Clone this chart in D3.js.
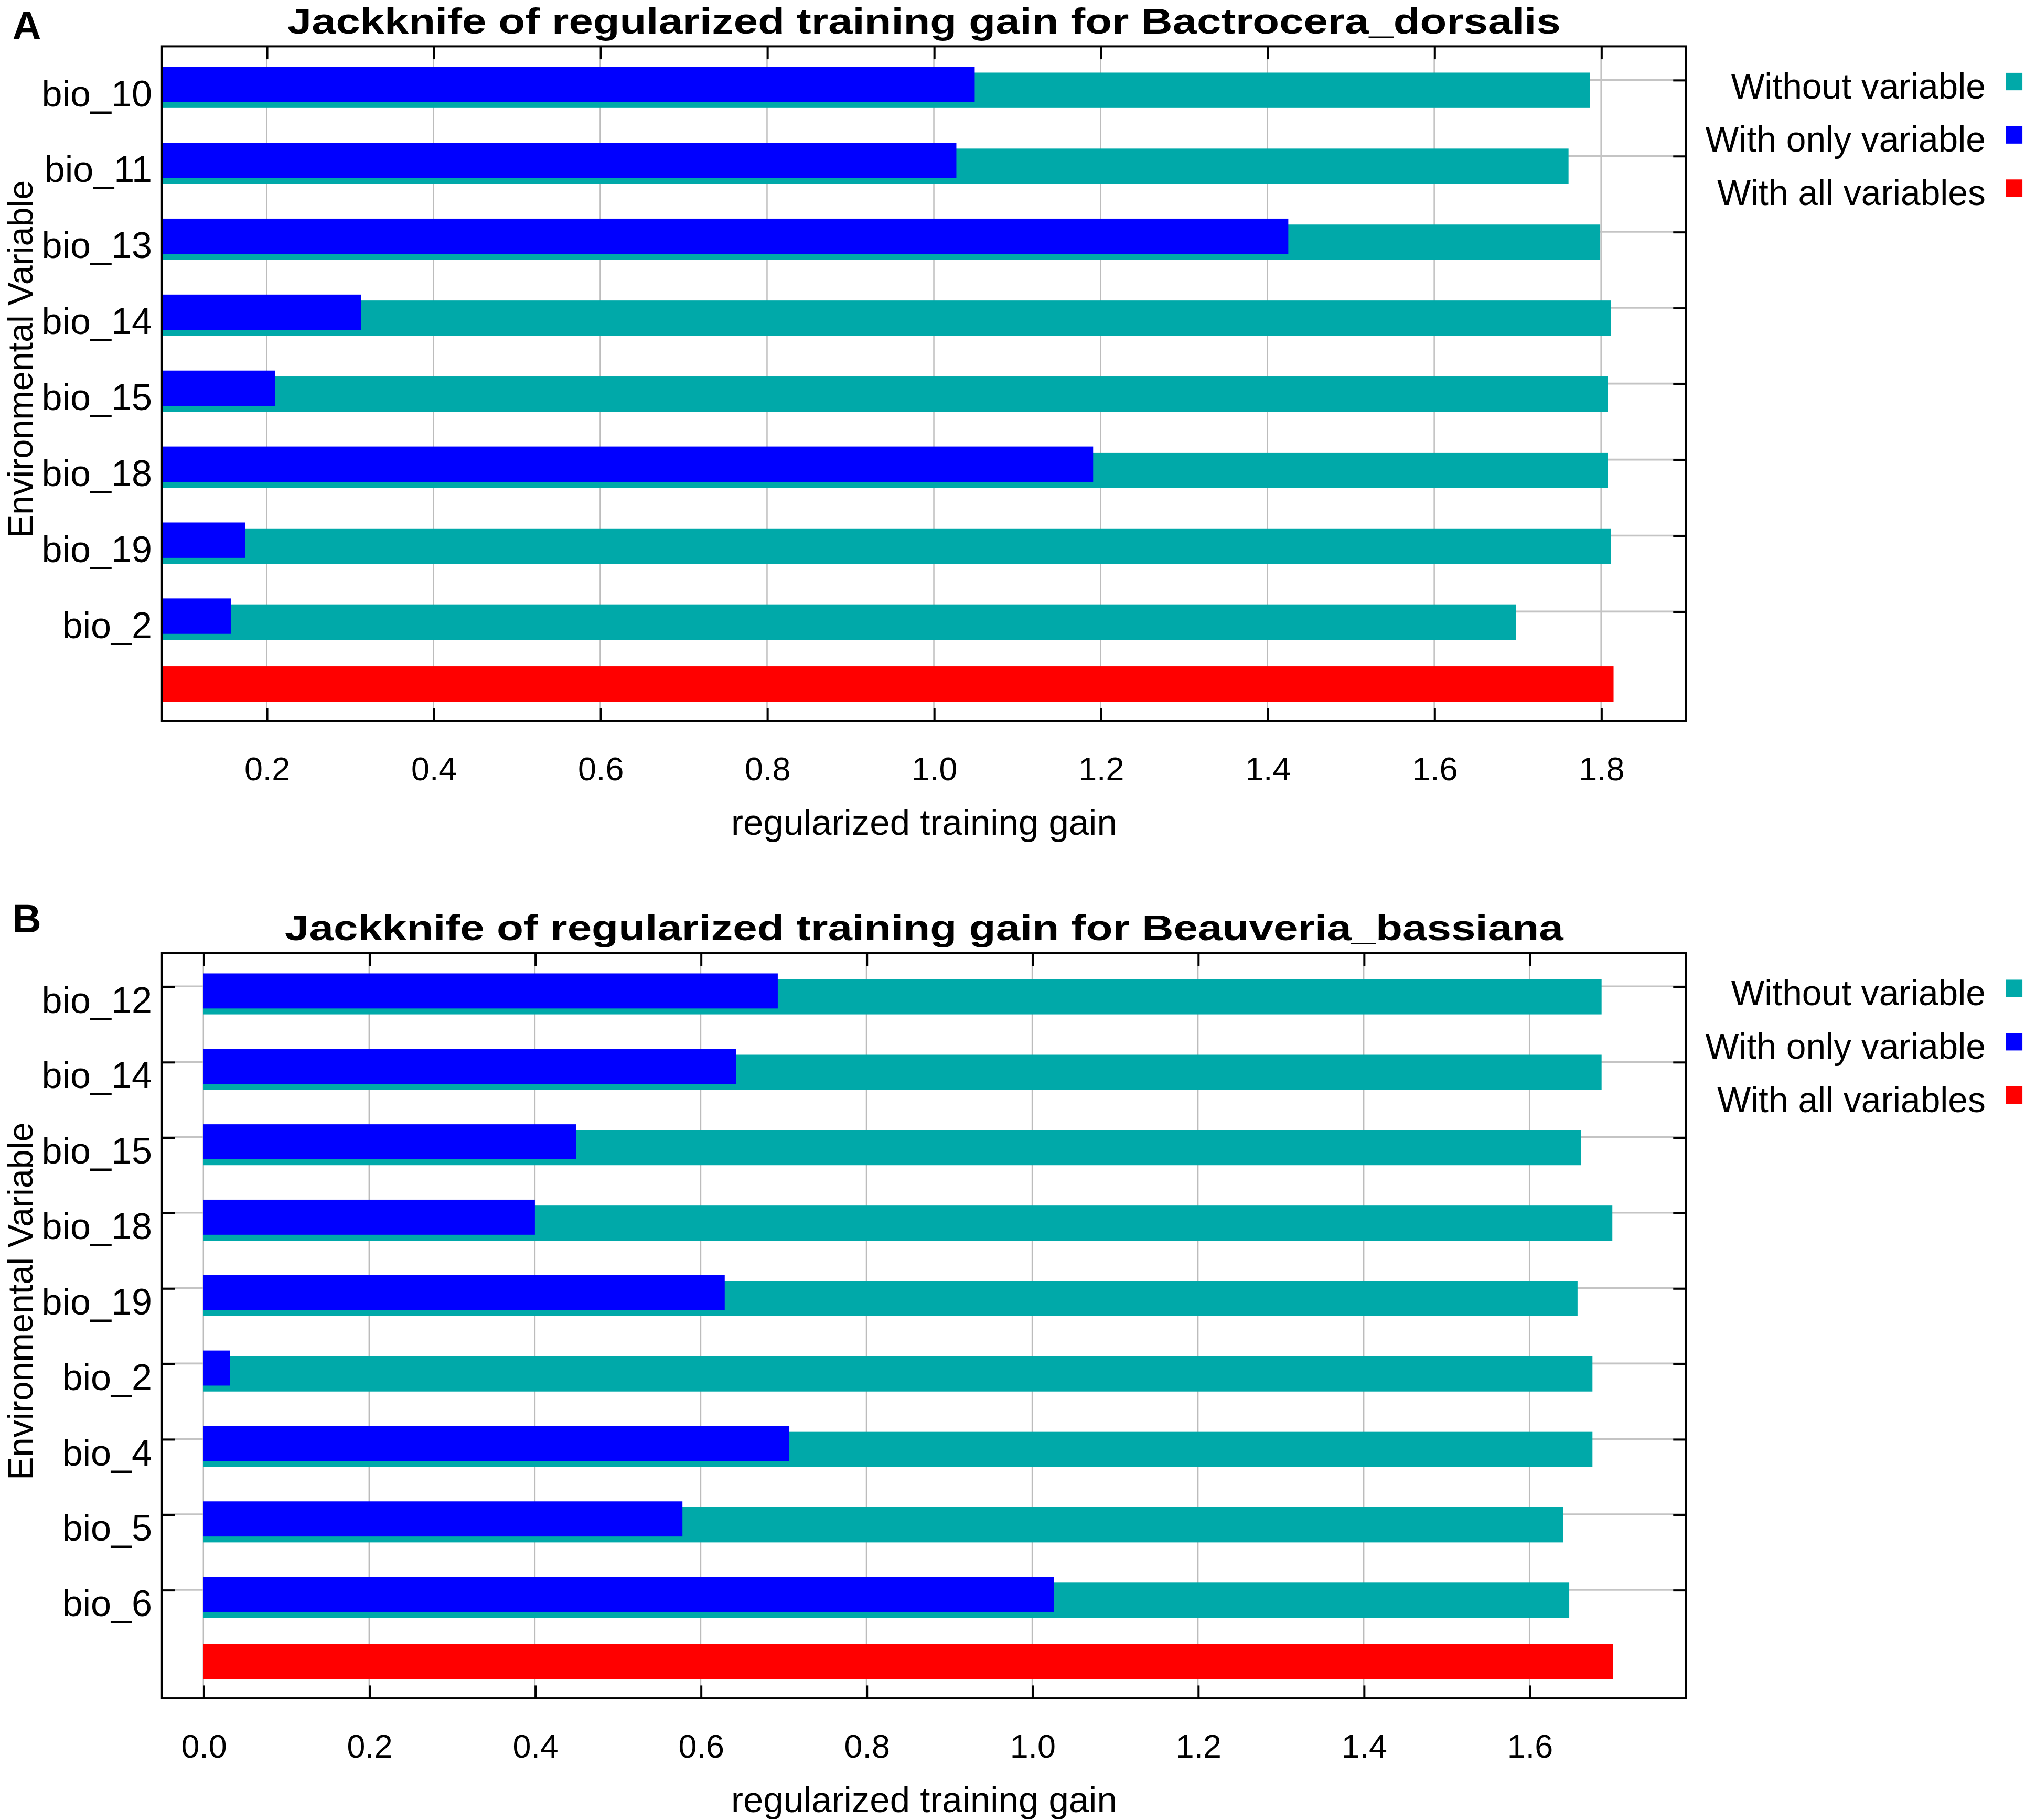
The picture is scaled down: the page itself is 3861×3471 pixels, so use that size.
<!DOCTYPE html>
<html>
<head>
<meta charset="utf-8">
<script src="https://cdn.jsdelivr.net/npm/d3@7"></script>
<style>
  body { margin: 0; background: #fff; }
  svg { display: block; }
  text { font-family: 'Liberation Sans', Arial, sans-serif; fill: #000; }
</style>
</head>
<body>
<svg id="chart"></svg>
<script>
// legend / series
const seriesNames = ['Without variable', 'With only variable', 'With all variables'],
      seriesColors = ['#00a9a9', '#0000ff', '#ff0000'];

// panel A : Bactrocera_dorsalis
const varsA = ['bio_10', 'bio_11', 'bio_13', 'bio_14', 'bio_15', 'bio_18', 'bio_19', 'bio_2'],
      withoutA = [1.787, 1.761, 1.799, 1.812, 1.808, 1.808, 1.812, 1.698],
      onlyA = [1.049, 1.027, 1.425, 0.313, 0.210, 1.191, 0.174, 0.157],
      allA = 1.815,
      domainA = [0.0745, 1.902];

// panel B : Beauveria_bassiana
const varsB = ['bio_12', 'bio_14', 'bio_15', 'bio_18', 'bio_19', 'bio_2', 'bio_4', 'bio_5', 'bio_6'],
      withoutB = [1.687, 1.687, 1.662, 1.700, 1.658, 1.676, 1.676, 1.641, 1.648],
      onlyB = [0.693, 0.643, 0.450, 0.400, 0.629, 0.032, 0.707, 0.578, 1.026],
      allB = 1.701,
      domainB = [-0.05, 1.789];

const width = 1568,
      height = 1409.6,
      left = 125.4,
      right = 1305.6;

const svg = d3.select('#chart')
    .attr('width', 3861)
    .attr('height', 3471)
    .attr('viewBox', `0 0 ${width} ${height}`);

svg.append('rect')
    .attr('width', width)
    .attr('height', height)
    .attr('fill', '#fff');

function drawPanel(p) {
  const g = svg.append('g'),
        xScale = d3.scaleLinear().domain(p.domain).range([left, right]),
        yScale = d3.scalePoint()
                   .domain([...p.vars, 'all'])
                   .range([p.top, p.bottom])
                   .padding(0.44),
        step = yScale.step(),
        barH = step * 0.465,
        ticks = xScale.ticks(10),
        x0 = xScale(Math.max(0, p.domain[0])),
        rows = p.vars.map((v, i) => ({ v: v, without: p.without[i], only: p.only[i] }));

  // grid
  g.append('g')
    .selectAll('line')
    .data(ticks)
    .join('line')
      .attr('x1', (d) => xScale(d))
      .attr('x2', (d) => xScale(d))
      .attr('y1', p.top)
      .attr('y2', p.bottom)
      .attr('stroke', '#bcbcbc')
      .attr('stroke-width', 1);

  g.append('g')
    .selectAll('line')
    .data(p.vars)
    .join('line')
      .attr('x1', left)
      .attr('x2', right)
      .attr('y1', (d) => yScale(d))
      .attr('y2', (d) => yScale(d))
      .attr('stroke', '#c4c4c4')
      .attr('stroke-width', 1.5);

  // axes (ticks point inward)
  const fixAxis = (sel) => {
    sel.select('.domain').remove();
    sel.selectAll('.tick line').attr('stroke', '#000').attr('stroke-width', 1.6);
    sel.attr('font-family', null).attr('font-size', null);
  };

  g.append('g')
    .attr('transform', `translate(0, ${p.bottom})`)
    .call(d3.axisBottom(xScale).tickValues(ticks).tickSize(-10).tickSizeOuter(0)
            .tickPadding(27.8).tickFormat(d3.format('.1f')))
    .call(fixAxis)
    .selectAll('text')
      .style('font-size', '25.5px');

  g.append('g')
    .attr('transform', `translate(0, ${p.top})`)
    .call(d3.axisTop(xScale).tickValues(ticks).tickSize(-10).tickSizeOuter(0).tickFormat(''))
    .call(fixAxis);

  g.append('g')
    .attr('transform', `translate(${left}, 0)`)
    .call(d3.axisLeft(yScale).tickValues(p.vars).tickSize(-10).tickSizeOuter(0).tickPadding(7.6))
    .call(fixAxis)
    .selectAll('text')
      .attr('dy', '0.7em')
      .style('font-size', '28.5px');

  g.append('g')
    .attr('transform', `translate(${right}, 0)`)
    .call(d3.axisRight(yScale).tickValues(p.vars).tickSize(-10).tickSizeOuter(0).tickFormat(''))
    .call(fixAxis);

  // bars
  g.append('g')
    .selectAll('rect')
    .data(rows)
    .join('rect')
      .attr('x', x0)
      .attr('y', (d) => yScale(d.v) + step * 0.138 - barH / 2)
      .attr('width', (d) => xScale(d.without) - x0)
      .attr('height', barH)
      .attr('fill', seriesColors[0]);

  g.append('g')
    .selectAll('rect')
    .data(rows)
    .join('rect')
      .attr('x', x0)
      .attr('y', (d) => yScale(d.v) + step * 0.06 - barH / 2)
      .attr('width', (d) => xScale(d.only) - x0)
      .attr('height', barH)
      .attr('fill', seriesColors[1]);

  g.append('rect')
    .attr('x', x0)
    .attr('y', yScale('all') - step * 0.045 - barH / 2)
    .attr('width', xScale(p.all) - x0)
    .attr('height', barH)
    .attr('fill', seriesColors[2]);

  // frame
  g.append('rect')
    .attr('x', left)
    .attr('y', p.top)
    .attr('width', right - left)
    .attr('height', p.bottom - p.top)
    .attr('fill', 'none')
    .attr('stroke', '#000')
    .attr('stroke-width', 1.6);

  // texts
  g.append('text')
    .text(p.title)
    .attr('x', (left + right) / 2)
    .attr('y', p.top - 10)
    .attr('textLength', p.titleWidth)
    .attr('lengthAdjust', 'spacingAndGlyphs')
    .style('font-size', '28px')
    .style('font-weight', 'bold')
    .style('text-anchor', 'middle');

  g.append('text')
    .text(p.letter)
    .attr('x', 9.5)
    .attr('y', p.letterY)
    .style('font-size', '31px')
    .style('font-weight', 'bold');

  g.append('text')
    .text('regularized training gain')
    .attr('x', (left + right) / 2)
    .attr('y', p.bottom + 88)
    .style('font-size', '28px')
    .style('text-anchor', 'middle');

  g.append('text')
    .text('Environmental Variable')
    .attr('transform', 'rotate(-90)')
    .attr('x', - ((p.top + p.bottom) / 2 - 19))
    .attr('y', 25)
    .style('font-size', '27px')
    .style('text-anchor', 'middle');

  // legend
  const legend = g.append('g')
    .selectAll('g')
    .data(seriesNames)
    .join('g')
      .attr('transform', (d, i) => `translate(0, ${p.top + i * 41.3})`);

  legend.append('text')
    .text((d) => d)
    .attr('x', 1537.5)
    .attr('y', 40.3)
    .style('font-size', '27.5px')
    .style('text-anchor', 'end');

  legend.append('rect')
    .attr('x', 1553)
    .attr('y', 20.5)
    .attr('width', 13)
    .attr('height', 13.5)
    .attr('fill', (d, i) => seriesColors[i]);
}

drawPanel({
  letter: 'A',
  letterY: 30.5,
  title: 'Jackknife of regularized training gain for Bactrocera_dorsalis',
  titleWidth: 986,
  top: 35.9,
  bottom: 558.4,
  vars: varsA,
  without: withoutA,
  only: onlyA,
  all: allA,
  domain: domainA
});

drawPanel({
  letter: 'B',
  letterY: 722,
  title: 'Jackknife of regularized training gain for Beauveria_bassiana',
  titleWidth: 990,
  top: 738.3,
  bottom: 1315.4,
  vars: varsB,
  without: withoutB,
  only: onlyB,
  all: allB,
  domain: domainB
});
</script>
</body>
</html>
